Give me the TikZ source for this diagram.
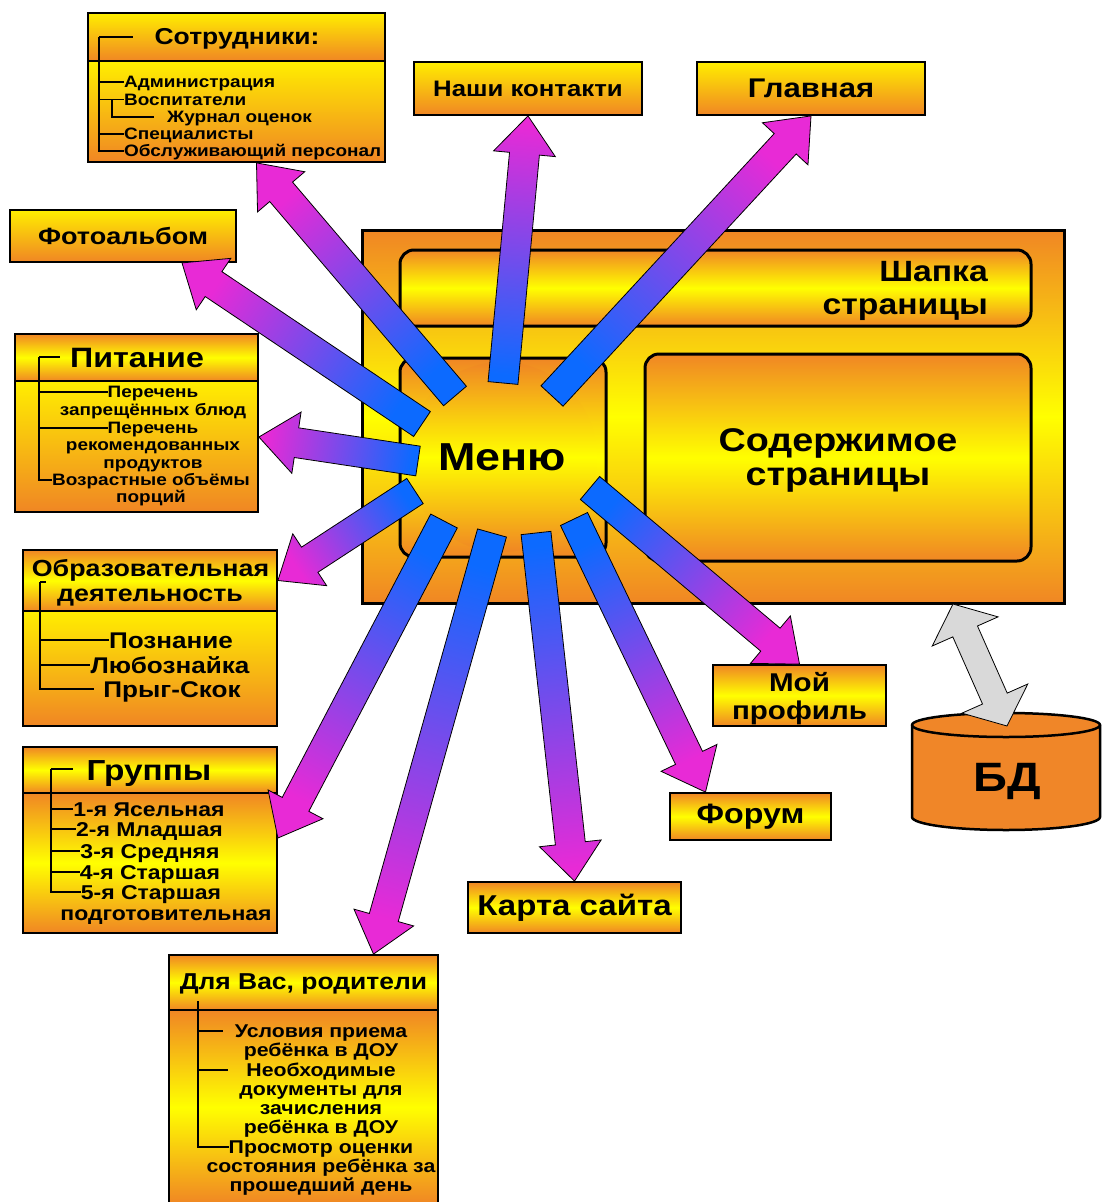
\documentclass[tikz,border=0pt]{standalone}
\usepackage{fontspec}
\setmainfont{Liberation Sans}[FakeStretch=1.15]
\usepackage{tikz}
\usetikzlibrary{calc}

\definecolor{boxOrange}{RGB}{240,134,36}
\definecolor{boxYellow}{RGB}{255,255,0}
\definecolor{topYellow}{RGB}{255,238,0}
\definecolor{arrBlue}{RGB}{12,106,255}
\definecolor{arrPink}{RGB}{232,42,214}
\definecolor{dbOrange}{RGB}{240,134,40}
\definecolor{dbGray}{RGB}{217,217,217}

% Block arrow: #1 tail, #2 tip
\newcommand\menuarrow[2]{%
  \coordinate (#1-hb) at ($(#2)!38pt!(#1)$);
  \pgfmathanglebetweenpoints{\pgfpointanchor{#1}{center}}{\pgfpointanchor{#2}{center}}%
  \pgfmathsetmacro\arrang{\pgfmathresult-90}%
  \path[mA, shading angle=\arrang]
    ($(#1)!15pt!90:(#2)$) -- ($(#1-hb)!15pt!90:(#2)$) -- ($(#1-hb)!31pt!90:(#2)$) -- (#2)
    -- ($(#1-hb)!31pt!-90:(#2)$) -- ($(#1-hb)!15pt!-90:(#2)$) -- ($(#1)!15pt!-90:(#2)$) -- cycle;
}

% Double block arrow: #1 and #2 tips
\newcommand\dbarrow[2]{%
  \coordinate (#1-hb) at ($(#1)!30pt!(#2)$);
  \coordinate (#2-hb) at ($(#2)!30pt!(#1)$);
  \path[dA] (#1) -- ($(#1-hb)!36pt!90:(#2)$) -- ($(#1-hb)!13.5pt!90:(#2)$)
    -- ($(#2-hb)!13.5pt!-90:(#1)$) -- ($(#2-hb)!36pt!-90:(#1)$) -- (#2)
    -- ($(#2-hb)!36pt!90:(#1)$) -- ($(#2-hb)!13.5pt!90:(#1)$)
    -- ($(#1-hb)!13.5pt!-90:(#2)$) -- ($(#1-hb)!36pt!-90:(#2)$) -- cycle;
}

\begin{document}
\begin{tikzpicture}[x=1pt, y=-1pt]

    % Bold sans-serif text
    \bfseries

    \useasboundingbox (0,0) rectangle (1101,1202);

    % Boxes
    \tikzset{gB/.style={draw, line width=1.8pt, top color=boxOrange, bottom color=boxOrange, middle color=boxYellow, inner sep=0pt}}
    \tikzset{yB/.style={draw, line width=1.8pt, top color=topYellow, bottom color=boxOrange, inner sep=0pt}}
    \tikzset{rB/.style={gB, line width=3pt, rounded corners=14pt}}

    % Texts
    \tikzset{fs/.style 2 args={font=\fontsize{#1}{#2}\selectfont}}
    \tikzset{tx/.style={inner sep=0pt, font=\fontsize{#1}{#1}\selectfont, text height=#1pt*0.716, text depth=0pt}}

    % Tree lines and arrows
    \tikzset{ln/.style={line width=1.6pt}}
    \tikzset{mA/.style={draw, line width=0.8pt, bottom color=arrBlue, top color=arrPink}}
    \tikzset{dA/.style={draw, line width=0.8pt, fill=dbGray}}

    % Page layout
    \node (page) [gB, line width=3pt, minimum width=702, minimum height=373] at (713,416.5) {};
    \node (cap) [rB, minimum width=631, minimum height=76] at (715.5,288) {};
    \node (capT) [fs={29.3}{33}, align=right, anchor=east, inner sep=0pt] at (988,291) {Шапка\\страницы};
    \node (content) [rB, fs={32.8}{34}, align=center, text depth=0pt, minimum width=386, minimum height=207] at (838,457.5) {Содержимое\\страницы};
    \node (menubox) [rB, minimum width=206, minimum height=199] at (503,457.5) {};
    \node (menu) [circle, top color=boxOrange, bottom color=boxOrange, middle color=boxYellow, minimum size=190, fs={39}{40}] at (502,457) {Меню};

    % Simple pages
    \node (contacts) [yB, minimum width=228, minimum height=53, fs={22.4}{24}] at (528,88.5) {Наши контакти};
    \node (mainpg) [yB, minimum width=228, minimum height=53, fs={27}{29}] at (811,88.5) {Главная};
    \node (photo) [yB, minimum width=226, minimum height=52, fs={23.5}{25}] at (123,236) {Фотоальбом};
    \node (profile) [gB, minimum width=173, minimum height=61, fs={25.7}{28}, align=center, text depth=0pt] at (799.5,695.5) {Мой\\профиль};
    \node (forum) [gB, minimum width=161, minimum height=47, fs={28}{30}] at (750.5,816.5) {Форум};
    \node (sitemap) [gB, minimum width=213, minimum height=51, fs={28.7}{30}] at (574.5,907.5) {Карта сайта};

    % Staff
    \node (staffH) [yB, minimum width=297, minimum height=48] at (236.5,37) {};
    \node (staffB) [yB, minimum width=297, minimum height=101] at (236.5,111.5) {};
    \node (staffT) [tx=23] at (237,36) {Сотрудники:};
    \node (st1) [tx=16.5, anchor=west] at (124,82) {Администрация};
    \node (st2) [tx=16.5, anchor=west] at (124,99.5) {Воспитатели};
    \node (st3) [tx=16.5, anchor=west] at (167,117) {Журнал оценок};
    \node (st4) [tx=16.5, anchor=west] at (124,134) {Специалисты};
    \node (st5) [tx=16.5, anchor=west] at (124,151) {Обслуживающий персонал};
    \coordinate (stR) at (99,37);
    \coordinate (vsR) at (112,99.5);
    \draw[ln] (stR) -- ++(34,0);
    \draw[ln] (stR) |- (st1.west);
    \draw[ln] (stR) |- (st2.west);
    \draw[ln] (stR) |- (st4.west);
    \draw[ln] (stR) |- (st5.west);
    \draw[ln] (vsR) |- ([xshift=-13pt]st3.west);

    % Food
    \node (foodH) [gB, minimum width=243, minimum height=47] at (136.5,357.5) {};
    \node (foodB) [yB, minimum width=243, minimum height=131] at (136.5,446.5) {};
    \node (foodT) [tx=28] at (137,357) {Питание};
    \node (fd1) [tx=16.5] at (153,392) {Перечень};
    \node (fd1b) [tx=16.5] at (153,410) {запрещённых блюд};
    \node (fd2) [tx=16.5] at (153,428) {Перечень};
    \node (fd2b) [tx=16.5] at (153,445) {рекомендованных};
    \node (fd2c) [tx=16.5] at (153,463) {продуктов};
    \node (fd3) [tx=16.5] at (151,480) {Возрастные объёмы};
    \node (fd3b) [tx=16.5] at (151,497) {порций};
    \coordinate (fdR) at (39,357);
    \draw[ln] (fdR) -- ++(21,0);
    \draw[ln] (fdR) |- (fd1.west);
    \draw[ln] (fdR) |- (fd2.west);
    \draw[ln] (fdR) |- (fd3.west);

    % Education
    \node (eduH) [gB, minimum width=254, minimum height=61] at (150,580.5) {};
    \node (eduB) [yB, minimum width=254, minimum height=115] at (150,668.5) {};
    \node (eduT1) [tx=23.3] at (150.5,568) {Образовательная};
    \node (eduT2) [tx=23.3] at (150,593) {деятельность};
    \node (ed1) [tx=22.7] at (171,640) {Познание};
    \node (ed2) [tx=22.7] at (170,665) {Любознайка};
    \node (ed3) [tx=22.7] at (172,689) {Прыг-Скок};
    \coordinate (edR) at (40,582);
    \draw[ln] (edR) -- ++(6,0);
    \draw[ln] (edR) |- (ed1.west);
    \draw[ln] (edR) |- (ed2.west);
    \draw[ln] (edR) |- ([xshift=-9pt]ed3.west);

    % Groups
    \node (grH) [gB, minimum width=254, minimum height=46] at (150,770) {};
    \node (grB) [gB, minimum width=254, minimum height=140] at (150,863) {};
    \node (grT) [tx=29] at (149,770) {Группы};
    \node (gr1) [tx=20] at (149,809) {1-я Ясельная};
    \node (gr2) [tx=20] at (149.5,829) {2-я Младшая};
    \node (gr3) [tx=20] at (150,851) {3-я Средняя};
    \node (gr4) [tx=20] at (150,872) {4-я Старшая};
    \node (gr5) [tx=20] at (151,892) {5-я Старшая};
    \node (gr6) [tx=20] at (166,913) {подготовительная};
    \coordinate (grR) at (51,769);
    \draw[ln] (grR) -- ++(22,0);
    \draw[ln] (grR) |- (gr1.west);
    \draw[ln] (grR) |- (gr2.west);
    \draw[ln] (grR) |- (gr3.west);
    \draw[ln] (grR) |- (gr4.west);
    \draw[ln] (grR) |- (gr5.west);

    % Parents
    \node (paH) [gB, minimum width=269, minimum height=55] at (303.5,982.5) {};
    \node (paB) [gB, minimum width=269, minimum height=194] at (303.5,1107) {};
    \node (paT) [tx=23] at (303.5,981) {Для Вас, родители};
    \node (pa1) [tx=18.5] at (321,1031) {Условия приема};
    \node (pa1b) [tx=18.5] at (321,1050) {ребёнка в ДОУ};
    \node (pa2) [tx=18.5] at (321,1070) {Необходимые};
    \node (pa2b) [tx=18.5] at (321,1089) {документы для};
    \node (pa2c) [tx=18.5] at (321,1108) {зачисления};
    \node (pa2d) [tx=18.5] at (321,1127) {ребёнка в ДОУ};
    \node (pa3) [tx=18.5] at (321,1147) {Просмотр оценки};
    \node (pa3b) [tx=18.5] at (321,1166) {состояния ребёнка за};
    \node (pa3c) [tx=18.5] at (321,1185) {прошедший день};
    \coordinate (paR) at (198,1001);
    \draw[ln] (paR) |- ([xshift=-12pt]pa1.west);
    \draw[ln] (paR) |- ([xshift=-18pt]pa2.west);
    \draw[ln] (paR) |- (pa3.west);

    % Database
    \path[draw, line width=2.5pt, fill=dbOrange] (912,725) -- (912,817)
        arc[start angle=180, end angle=0, x radius=94, y radius=13] -- (1100,725)
        arc[start angle=0, end angle=-180, x radius=94, y radius=12] -- cycle;
    \draw[line width=2.5pt] (912,725) arc[start angle=180, end angle=0, x radius=94, y radius=12];
    \node (db) [fs={41}{42}, text depth=0pt] at (1007,777) {БД};

    % Arrow ends
    \coordinate (mStaff) at (455,396);
    \coordinate (mContacts) at (503,383);
    \coordinate (mMain) at (552,396);
    \coordinate (mPhoto) at (422,424);
    \coordinate (mFood) at (418,461);
    \coordinate (mEdu) at (415,491);
    \coordinate (mGroup) at (444,521);
    \coordinate (mParent) at (492,533);
    \coordinate (mMap) at (536,533);
    \coordinate (mForum) at (574,519);
    \coordinate (mProfile) at (590,488);
    \coordinate (toStaff) at ([xshift=20pt]staffB.south);
    \coordinate (toContacts) at (contacts.south);
    \coordinate (toMain) at (mainpg.south);
    \coordinate (toPhoto) at ([xshift=59pt]photo.south);
    \coordinate (toFood) at ([yshift=9.5pt]foodB.east);
    \coordinate (toEdu) at (eduH.east);
    \coordinate (toGroup) at ([yshift=25pt]grB.east);
    \coordinate (toParent) at ([xshift=70pt]paH.north);
    \coordinate (toMap) at (sitemap.north);
    \coordinate (toForum) at ([xshift=-45pt]forum.north);
    \coordinate (toProfile) at (profile.north);
    \coordinate (pgDb) at (953,604);
    \coordinate (dbTop) at (1007,726);

    % Menu arrows
    \menuarrow{mStaff}{toStaff}
    \menuarrow{mContacts}{toContacts}
    \menuarrow{mMain}{toMain}
    \menuarrow{mPhoto}{toPhoto}
    \menuarrow{mFood}{toFood}
    \menuarrow{mEdu}{toEdu}
    \menuarrow{mGroup}{toGroup}
    \menuarrow{mParent}{toParent}
    \menuarrow{mMap}{toMap}
    \menuarrow{mForum}{toForum}
    \menuarrow{mProfile}{toProfile}

    % Page to database
    \dbarrow{pgDb}{dbTop}

\end{tikzpicture}
\end{document}
